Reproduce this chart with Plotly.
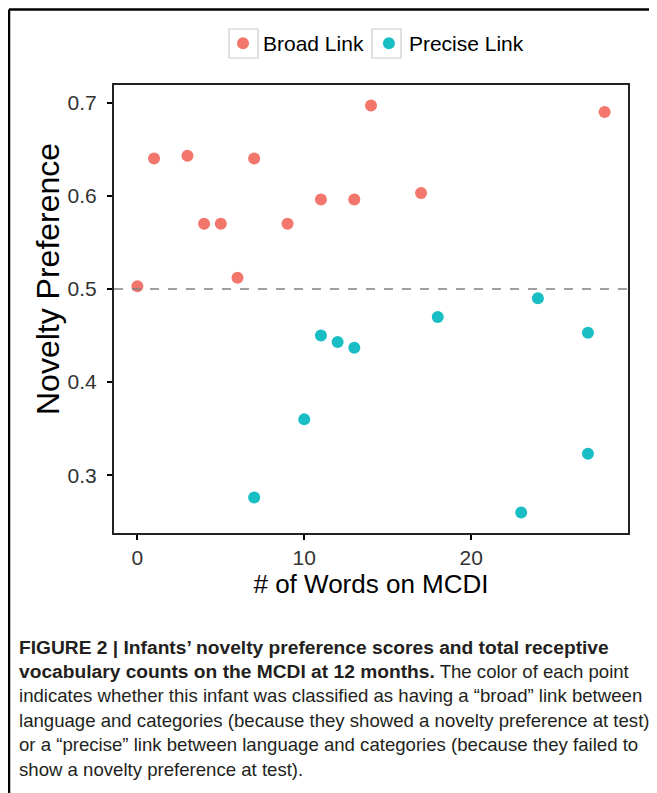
import plotly.graph_objects as go

# Data
broad_words = [0, 1, 3, 4, 5, 6, 7, 9, 11, 13, 14, 17, 28]
broad_pref = [0.503, 0.640, 0.643, 0.570, 0.570, 0.512, 0.640, 0.570, 0.596, 0.596, 0.697, 0.603, 0.690]
precise_words = [7, 10, 11, 12, 13, 18, 23, 24, 27, 27]
precise_pref = [0.276, 0.360, 0.450, 0.443, 0.437, 0.470, 0.260, 0.490, 0.453, 0.323]
x_ticks = [0, 10, 20]
y_ticks = [0.3, 0.4, 0.5, 0.6, 0.7]
chance_level = 0.5
x_title = "# of Words on MCDI"
y_title = "Novelty Preference"

BOLD = '<b><span style="font-size:19.2px">{}</span></b>'
caption_lines = [
    BOLD.format("FIGURE 2 | Infants’ novelty preference scores and total receptive"),
    BOLD.format("vocabulary counts on the MCDI at 12 months.") + " The color of each point",
    "indicates whether this infant was classified as having a “broad” link between",
    "language and categories (because they showed a novelty preference at test)",
    "or a “precise” link between language and categories (because they failed to",
    "show a novelty preference at test).",
]

# page has an 8px body margin: figure pixel = page pixel - 8
OFF = 8
W, H = 649, 785
L, R, T, B = 106, 29, 77, 260
PW, PH = W - L - R, H - T - B

def px(page_x):
    return (page_x - OFF - L) / PW

def py(page_y):
    return (H - B - (page_y - OFF)) / PH

FONT = "Liberation Sans, Arial, Helvetica, sans-serif"
RED = "#F2766C"
TEAL = "#19BEC5"

fig = go.Figure()
fig.add_trace(go.Scatter(x=broad_words, y=broad_pref, mode="markers", name="Broad Link",
                         marker=dict(color=RED, size=12, line=dict(width=0))))
fig.add_trace(go.Scatter(x=precise_words, y=precise_pref, mode="markers", name="Precise Link",
                         marker=dict(color=TEAL, size=12, line=dict(width=0))))

fig.add_hline(y=chance_level, line=dict(color="#808080", width=1.5, dash="dash"))

shapes = [
    # outer frame (left and top lines)
    dict(type="line", xref="paper", yref="paper", x0=px(9), x1=px(W + OFF + 5), y0=py(9.5), y1=py(9.5),
         line=dict(color="black", width=2.5)),
    dict(type="line", xref="paper", yref="paper", x0=px(9), x1=px(9), y0=py(9.5), y1=py(H + OFF + 5),
         line=dict(color="black", width=2.5)),
    # legend key boxes
    dict(type="rect", xref="paper", yref="paper", x0=px(229), x1=px(258), y0=py(29), y1=py(58),
         line=dict(color="#CCCCCC", width=1.2)),
    dict(type="rect", xref="paper", yref="paper", x0=px(372), x1=px(401), y0=py(29), y1=py(58),
         line=dict(color="#CCCCCC", width=1.2)),
]
for s in shapes:
    fig.add_shape(**s)

for i, line in enumerate(caption_lines):
    fig.add_annotation(text=line, xref="paper", yref="paper", x=px(17), y=py(647 + 24.4 * i),
                       xanchor="left", yanchor="middle", showarrow=False, align="left",
                       font=dict(family=FONT, size=18.6, color="#231F20"))

# y axis title
fig.add_annotation(text=y_title, xref="paper", yref="paper", x=px(48), y=py(279),
                   xanchor="center", yanchor="middle", showarrow=False, textangle=-90,
                   font=dict(family=FONT, size=32, color="black"))

fig.update_layout(
    width=W, height=H,
    margin=dict(l=L, r=R, t=T, b=B),
    paper_bgcolor="white", plot_bgcolor="white",
    font=dict(family=FONT, color="black"),
    showlegend=True,
    legend=dict(orientation="h", x=px(223), xanchor="left", y=py(43.5), yanchor="middle",
                bgcolor="rgba(0,0,0,0)",
                font=dict(size=21, color="black"), itemsizing="constant", itemwidth=30,
                tracegroupgap=0),
    xaxis=dict(range=[-1.4, 29.4], tickvals=x_ticks, ticks="outside", ticklen=5, tickwidth=1.5,
               tickcolor="black", showline=True, linecolor="#222", linewidth=2, mirror=True,
               showgrid=False, zeroline=False, tickfont=dict(size=21, color="#333"),
               title=dict(text=x_title, font=dict(size=26), standoff=7)),
    yaxis=dict(range=[0.238, 0.719], tickvals=y_ticks, tickformat=".1f", ticks="outside", ticklen=5,
               tickwidth=1.5, tickcolor="black", showline=True, linecolor="#222", linewidth=2,
               mirror=True, showgrid=False, zeroline=False, tickfont=dict(size=21, color="#333"),
               ticklabelstandoff=6),
)

fig.write_html("out.html")
